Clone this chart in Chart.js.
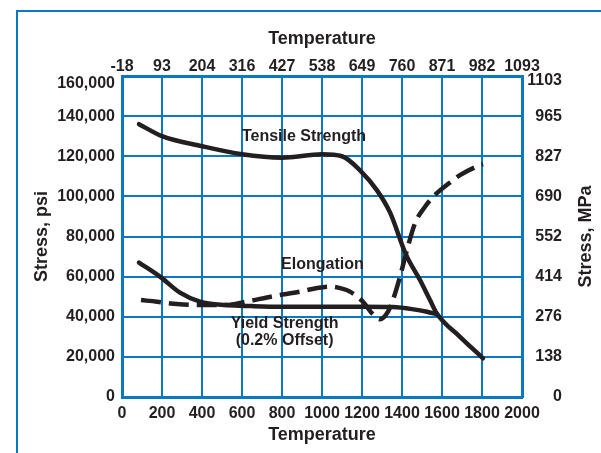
<!DOCTYPE html>
<html>
<head>
<meta charset="utf-8">
<script src="https://cdn.jsdelivr.net/npm/chart.js@4.4.1/dist/chart.umd.min.js"></script>
<style>
    body { margin: 0; background: #fff; overflow: hidden; }
    #wrap { position: relative; width: 601px; height: 453px; }
    #frame { position: absolute; left: 16px; top: 10px; width: 700px; height: 600px; border: 2px solid #0a78c2; }
    canvas { position: absolute; left: 0; top: 0; }
</style>
</head>
<body>
<div id="wrap">
    <div id="frame"></div>
    <canvas id="chart" width="601" height="453"></canvas>
</div>
<script>
// tick labels
const fahrenheitLabels = ['0', '200', '400', '600', '800', '1000', '1200', '1400', '1600', '1800', '2000'];
const celsiusLabels = ['-18', '93', '204', '316', '427', '538', '649', '760', '871', '982', '1093'];
const psiLabels = ['0', '20,000', '40,000', '60,000', '80,000', '100,000', '120,000', '140,000', '160,000'];
const mpaLabels = ['0', '138', '276', '414', '552', '690', '827', '965', '1103'];

// curves (temperature in F, stress in psi)
const tensileTemp = [85, 200, 400, 600, 800, 1000, 1100, 1190, 1275, 1340, 1420, 1490, 1540, 1575, 1690, 1805];
const tensileStress = [136000, 130000, 125000, 121000, 119300, 121000, 120000, 113000, 103000, 92000, 71000, 58300, 48300, 41500, 30000, 19300];

const yieldTemp = [85, 190, 290, 390, 520, 650, 800, 1000, 1200, 1355, 1450, 1525, 1575];
const yieldStress = [67000, 60000, 52000, 47500, 45800, 45300, 45000, 45000, 45000, 44800, 43800, 42500, 41200];

const elongTemp = [95, 175, 275, 390, 520, 620, 760, 890, 970, 1040, 1100, 1140, 1205, 1250, 1290, 1330, 1360, 1390, 1425, 1465, 1515, 1565, 1635, 1690, 1790, 1805];
const elongStress = [48300, 47500, 46300, 45800, 45800, 47500, 50300, 52500, 54200, 55000, 54000, 52500, 47500, 41700, 38700, 42500, 50000, 60000, 73300, 86600, 94800, 100700, 106500, 110600, 115600, 116100];

// curve labels
const curveLabels = [
    { text: 'Tensile Strength', x: 910, y: 130000 },
    { text: 'Elongation', x: 1002, y: 65800 },
    { text: 'Yield Strength', x: 813, y: 36400 },
    { text: '(0.2% Offset)', x: 813, y: 27900 }
];

const ink = '#231f20';
const blue = '#0a78c2';
const family = '"Liberation Sans", Arial, sans-serif';
const tickFont = { family: family, size: 16, weight: 'bold' };
const titleFont = { family: family, size: 18, weight: 'bold' };

function toPoints(xs, ys) {
    return xs.map((x, i) => ({ x: x, y: ys[i] }));
}

const curveLabelPlugin = {
    id: 'curveLabels',
    afterDatasetsDraw(chart) {
        const ctx = chart.ctx;
        const xs = chart.scales.x;
        const ys = chart.scales.y;
        ctx.save();
        ctx.font = 'bold 16px ' + family;
        ctx.fillStyle = ink;
        ctx.textAlign = 'center';
        ctx.textBaseline = 'middle';
        curveLabels.forEach((l) => {
            ctx.fillText(l.text, xs.getPixelForValue(l.x), ys.getPixelForValue(l.y));
        });
        // right axis title reads bottom to top, like the left one
        const area = chart.chartArea;
        ctx.translate(586, (area.top + area.bottom) / 2);
        ctx.rotate(-Math.PI / 2);
        ctx.font = 'bold 18px ' + family;
        ctx.fillText('Stress, MPa', 0, 0);
        ctx.restore();
    }
};

const lineStyle = {
    borderColor: ink,
    borderWidth: 4.5,
    pointRadius: 0,
    fill: false,
    cubicInterpolationMode: 'monotone',
    borderJoinStyle: 'round'
};

new Chart(document.getElementById('chart').getContext('2d'), {
    type: 'line',
    data: {
        datasets: [
            Object.assign({ label: 'Tensile Strength', data: toPoints(tensileTemp, tensileStress), borderCapStyle: 'round' }, lineStyle),
            Object.assign({ label: 'Yield Strength', data: toPoints(yieldTemp, yieldStress), borderCapStyle: 'round' }, lineStyle),
            Object.assign({ label: 'Elongation', data: toPoints(elongTemp, elongStress), borderDash: [20, 8] }, lineStyle)
        ]
    },
    options: {
        responsive: false,
        animation: false,
        layout: { padding: { left: 0, top: 0, bottom: 0, right: 39 } },
        plugins: {
            legend: { display: false },
            title: { display: false },
            tooltip: { enabled: false }
        },
        scales: {
            x: {
                type: 'linear',
                position: 'bottom',
                min: 0,
                max: 2000,
                afterFit: (s) => { s.height = 56; },
                ticks: {
                    stepSize: 200,
                    color: ink,
                    font: tickFont,
                    padding: 7,
                    maxRotation: 0,
                    autoSkip: false,
                    callback: (v, i) => fahrenheitLabels[i]
                },
                grid: { color: blue, lineWidth: 2, drawTicks: false },
                border: { color: blue, width: 3 },
                title: { display: true, text: 'Temperature', color: ink, font: titleFont, padding: { top: 0, bottom: 7 } }
            },
            x2: {
                type: 'linear',
                position: 'top',
                min: 0,
                max: 2000,
                afterFit: (s) => { s.height = 76; },
                ticks: {
                    stepSize: 200,
                    color: ink,
                    font: tickFont,
                    padding: 0,
                    maxRotation: 0,
                    autoSkip: false,
                    callback: (v, i) => celsiusLabels[i]
                },
                grid: { display: false, drawTicks: false },
                border: { color: blue, width: 3 },
                title: { display: true, text: 'Temperature', color: ink, font: titleFont, padding: { top: 28, bottom: 0 } }
            },
            y: {
                type: 'linear',
                position: 'left',
                min: 0,
                max: 160000,
                afterFit: (s) => { s.width = 122; },
                ticks: {
                    stepSize: 20000,
                    color: ink,
                    font: Object.assign({ lineHeight: 0.95 }, tickFont),
                    padding: 7,
                    // top label sits a little below its line
                    callback: (v, i) => (i === psiLabels.length - 1 ? ['', psiLabels[i]] : psiLabels[i])
                },
                grid: { color: blue, lineWidth: 2, drawTicks: false },
                border: { color: blue, width: 3 },
                title: { display: true, text: 'Stress, psi', color: ink, font: titleFont, padding: { top: 31, bottom: 0 } }
            },
            y2: {
                type: 'linear',
                position: 'right',
                min: 0,
                max: 160000,
                afterFit: (s) => { s.width = 40; },
                ticks: {
                    stepSize: 20000,
                    color: ink,
                    font: Object.assign({ lineHeight: 0.625 }, tickFont),
                    padding: 8,
                    crossAlign: 'far',
                    callback: (v, i) => (i === mpaLabels.length - 1 ? ['', mpaLabels[i]] : mpaLabels[i])
                },
                grid: { display: false, drawTicks: false },
                border: { color: blue, width: 3 },
                title: { display: false }
            }
        }
    },
    plugins: [curveLabelPlugin]
});
</script>
</body>
</html>
